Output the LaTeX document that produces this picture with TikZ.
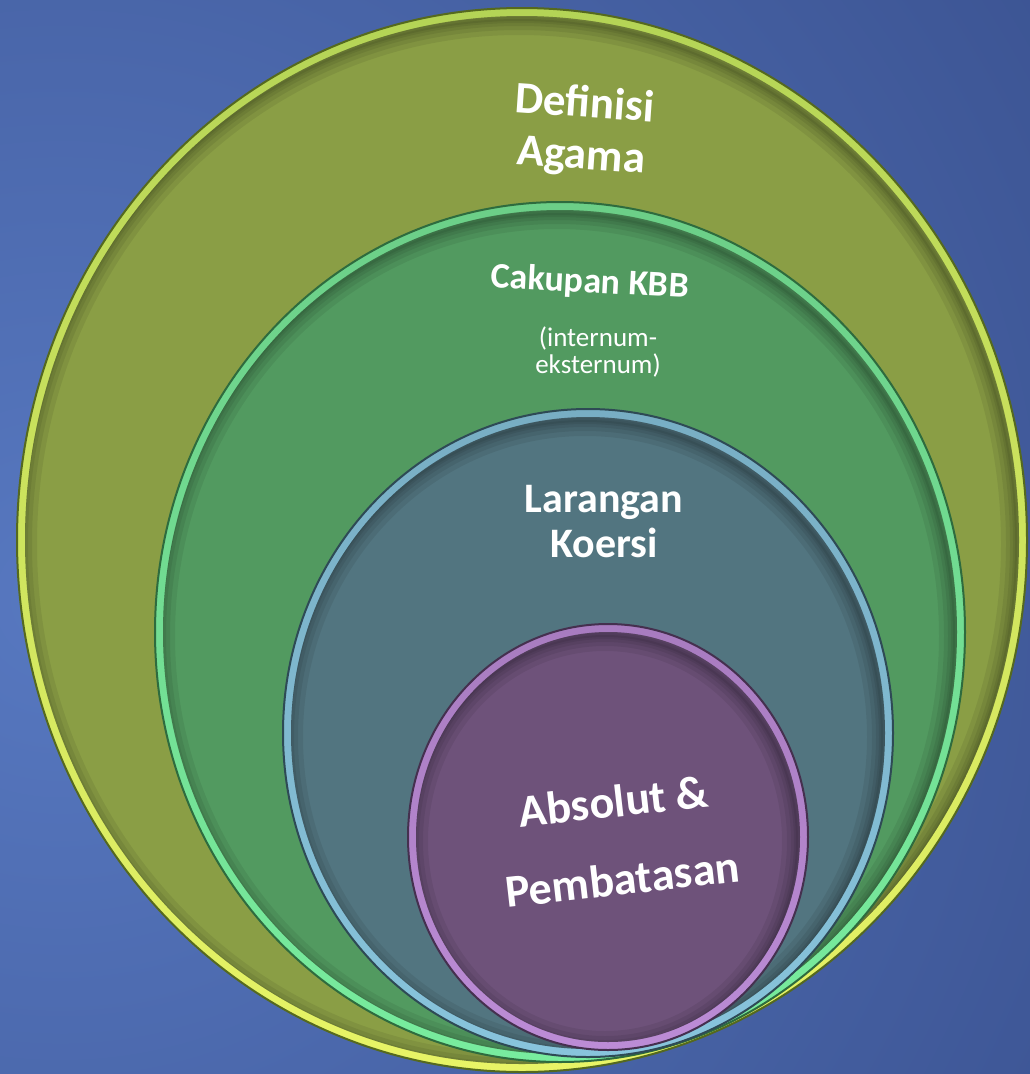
\documentclass[tikz,border=0pt]{standalone}
\usepackage{fontspec}
\setmainfont{Carlito}
\definecolor{bgin}{HTML}{5778C0}
\definecolor{bgout}{HTML}{273870}
\definecolor{olivefill}{HTML}{8A9E45}
\definecolor{oliverimt}{HTML}{B4D456}
\definecolor{oliverimb}{HTML}{E8F466}
\definecolor{olivedark}{HTML}{55691E}
\definecolor{greenfill}{HTML}{529A60}
\definecolor{greenrimt}{HTML}{6CCF88}
\definecolor{greenrimb}{HTML}{78EC9E}
\definecolor{greendark}{HTML}{2E6B3E}
\definecolor{bluefill}{HTML}{527580}
\definecolor{bluerimt}{HTML}{78AEC4}
\definecolor{bluerimb}{HTML}{88C4DC}
\definecolor{bluedark}{HTML}{2E4A55}
\definecolor{purplefill}{HTML}{6E527A}
\definecolor{purplerimt}{HTML}{A87CC0}
\definecolor{purplerimb}{HTML}{BC8CD6}
\definecolor{purpledark}{HTML}{45304F}
\newcommand{\ringlayer}[8]{%
  \shade[top color=#6, bottom color=#7] (#1,#2) ellipse [x radius=#3pt, y radius=#4pt];
  \draw[#8, line width=2pt] (#1,#2) ellipse [x radius=#3pt, y radius=#4pt];
  \fill[#5] (#1,#2) ellipse [x radius=#3pt-8pt, y radius=#4pt-8pt];
  \begin{scope}
    \clip (#1,#2) ellipse [x radius=#3pt-8pt, y radius=#4pt-8pt];
    \foreach \w in {30,20,12,6,2}
      \draw[black, opacity=0.07, line width=\w pt] (#1-3,#2+4) ellipse [x radius=#3pt-8pt, y radius=#4pt-8pt];
  \end{scope}
}
\tikzset{
  lbl/.style={text=white, align=center, inner sep=0pt},
}
\begin{document}
\begin{tikzpicture}[x=1pt, y=-1pt]
\useasboundingbox (0,0) rectangle (1030,1074);
\begin{scope}
  \clip (0,0) rectangle (1030,1074);
  \shade[inner color=bgin, outer color=bgout] (60,600) circle (2100pt);
\end{scope}
\ringlayer{522}{540}{505}{532}{olivefill}{oliverimt}{oliverimb}{olivedark}
\ringlayer{560}{632}{405}{430}{greenfill}{greenrimt}{greenrimb}{greendark}
\ringlayer{588}{733}{305}{324}{bluefill}{bluerimt}{bluerimb}{bluedark}
\ringlayer{608}{837}{200}{213}{purplefill}{purplerimt}{purplerimb}{purpledark}
% labels
\node[lbl, rotate=-4, font=\bfseries\fontsize{45}{52}\selectfont] (t1) at (583,131) {Definisi\\Agama};
\node[lbl, rotate=-3, font=\bfseries\fontsize{36}{40}\selectfont] (t2) at (590,283) {Cakupan KBB};
\node[lbl, font=\fontsize{27}{27}\selectfont] (t3) at (598,352) {(internum-\\eksternum)};
\node[lbl, font=\bfseries\fontsize{42}{45}\selectfont] (t4) at (604,522) {Larangan\\Koersi};
\node[lbl, rotate=6.5, font=\bfseries\fontsize{46}{78}\selectfont] (t5) at (618,840) {Absolut \&\\Pembatasan};
\end{tikzpicture}
\end{document}
